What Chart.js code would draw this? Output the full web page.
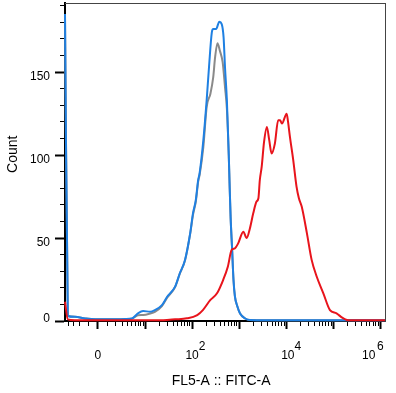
<!DOCTYPE html>
<html>
<head>
<meta charset="utf-8">
<script src="https://cdn.jsdelivr.net/npm/chart.js@4/dist/chart.umd.min.js"></script>
<style>
html,body{margin:0;padding:0;background:#fff;}
#wrap{width:396px;height:393px;position:relative;}
</style>
</head>
<body>
<div id="wrap"><canvas id="c"></canvas></div>
<script>
// x values are positions on the biexponential FITC axis, in display decades
// (0 = value 0, 2 = 10^2, 4 = 10^4, 6 = 10^6); y values are counts.
const redX  = [-0.70,-0.64,-0.49,0.00,1.00,1.39,1.64,1.89,2.11,2.23,2.39,2.53,2.66,2.76,2.84,2.91,2.98,3.09,3.16,3.23,3.30,3.37,3.41,3.44,3.48,3.53,3.59,3.64,3.69,3.76,3.83,3.87,3.91,4.01,4.04,4.08,4.15,4.22,4.27,4.33,4.44,4.54,4.65,4.79,4.93,5.07,5.19,5.29,5.36,6.10];
const redY  = [11.6,1.0,0.5,0.4,0.4,0.5,1.0,1.6,3.6,6.6,12.7,16.7,24.7,32.7,42.8,43.8,46.8,53.8,50.0,55.9,64.9,72.0,74.0,85.0,93.0,108.0,117.0,109.0,101.0,107.0,121.0,121.0,119.0,125.0,120.0,111.0,97.0,81.0,74.0,69.0,53.0,37.0,26.7,16.7,6.6,4.6,2.0,0.6,0.4,0.4];

const blueX = [-0.70,-0.64,-0.49,-0.27,-0.06,0.15,0.36,0.58,0.72,0.85,0.96,1.11,1.21,1.36,1.47,1.64,1.74,1.85,1.96,2.02,2.08,2.13,2.16,2.24,2.31,2.36,2.42,2.45,2.51,2.58,2.63,2.67,2.70,2.74,2.78,2.80,2.82,2.85,2.88,2.91,2.96,3.02,3.13,3.23,4.00,5.00,6.10];
const blueY = [185,3.0,2.5,1.5,1.0,1.0,1.0,1.2,1.5,4.6,6.0,5.6,6.6,9.6,14.6,20.7,28.8,36.8,52.9,65,73,85,89,109,133,153,174,176,176,180.4,179,171,153,133,100,80,62,44,25,15,9,4.5,1.5,0.6,0.4,0.4,0.4];

const grayX = [-0.70,-0.64,-0.49,-0.27,-0.06,0.15,0.36,0.58,0.72,0.85,0.96,1.11,1.21,1.36,1.47,1.64,1.74,1.85,1.96,2.02,2.08,2.13,2.16,2.24,2.31,2.39,2.45,2.49,2.54,2.59,2.65,2.70,2.74,2.78,2.80,2.82,2.85,2.88,2.91,2.96,3.02,3.13,3.23,4.00,5.00,6.10];
const grayY = [185,3.0,2.5,1.5,1.0,1.0,1.0,1.2,1.4,3.5,3.6,4.5,5.5,9.0,14.0,20.5,28.5,36.5,52.5,64,72,84,88,105,129,137,147,159,167.4,163,156,141,128,100,80,62,44,25,15,9,4.5,1.5,0.6,0.4,0.4,0.4];

// axis ticks
const xMajorValues = [0, 10, 100, 1000, 10000, 100000, 1000000];
const xMinorNegative = [-4, -3, -2, -1];
const xMinorMultipliers = [2, 3, 4, 5, 6, 7, 8, 9];
const xMinorDecades = [1, 10, 100, 1000, 10000, 100000];
const xLabelValues = [0, 100, 10000, 1000000];
const xLabelBase = ['0', '10', '10', '10'];
const xLabelExp  = ['', '2', '4', '6'];
// text nudges (space counts) for the exponent and base lines of each label
const xExpLead  = [0, 6, 7, 0];
const xBaseLead = [0, 0, 1, 0];
const xBaseTail = [0, 0, 0, 7];

const yMajorTicks = [0, 50, 100, 150];
const yMinorTicks = [10, 20, 30, 40, 60, 70, 80, 90, 110, 120, 130, 140, 160, 170, 180, 190];

const X_MIN = -0.7, X_MAX = 6.1, Y_MIN = 0, Y_MAX = 191.7;

// biexponential-like display transform (asinh), used for tick placement
const toT = v => Math.asinh(v / 2) / Math.LN10;
const sp = n => ' '.repeat(n);

function buildXTicks() {
  const list = [];
  xMinorNegative.forEach(v => list.push({value: toT(v), isMaj: false, lbl: ''}));
  xMinorDecades.forEach(d => xMinorMultipliers.forEach(m => {
    list.push({value: toT(m * d), isMaj: false, lbl: ''});
  }));
  xMinorNegative.length && list.push({value: toT(1), isMaj: false, lbl: ''});
  xMajorValues.forEach(v => {
    const k = xLabelValues.indexOf(v);
    const lbl = k >= 0
      ? [xLabelExp[k] ? sp(xExpLead[k]) + xLabelExp[k] : '', sp(xBaseLead[k]) + xLabelBase[k] + sp(xBaseTail[k])]
      : '';
    list.push({value: toT(v), isMaj: true, lbl});
  });
  return list.filter(t => t.value >= X_MIN && t.value <= X_MAX).sort((a, b) => a.value - b.value);
}
function buildYTicks() {
  const list = [];
  yMajorTicks.forEach(v => list.push({value: v, isMaj: true, lbl: v === 0 ? [String(v), ''] : String(v)}));
  yMinorTicks.forEach(v => list.push({value: v, isMaj: false, lbl: ''}));
  return list.sort((a, b) => a.value - b.value);
}
function noPad(s) { s.paddingLeft = 0; s.paddingRight = 0; s.paddingTop = 0; s.paddingBottom = 0; }

const pts = (xs, ys) => xs.map((x, i) => ({x, y: ys[i]}));
const FONT = "'Liberation Sans', Arial, Helvetica, sans-serif";
const isMaj = c => !!(c.tick && c.tick.isMaj);

new Chart(document.getElementById('c'), {
  type: 'line',
  data: {
    datasets: [
      {label: 'Stained', data: pts(redX, redY), borderColor: '#e8141c'},
      {label: 'Control', data: pts(blueX, blueY), borderColor: '#1f80e2'},
      {label: 'Unstained', data: pts(grayX, grayY), borderColor: '#8a8a8a'}
    ]
  },
  options: {
    responsive: true,
    maintainAspectRatio: false,
    animation: false,
    events: [],
    layout: {padding: {top: 3, right: 11, left: 0, bottom: 0}},
    datasets: {line: {clip: false}},
    elements: {
      point: {radius: 0},
      line: {borderWidth: 2, fill: false, cubicInterpolationMode: 'monotone'}
    },
    plugins: {legend: {display: false}, tooltip: {enabled: false}},
    scales: {
      x: {
        type: 'linear', position: 'bottom', min: X_MIN, max: X_MAX,
        afterBuildTicks: s => { s.ticks = buildXTicks(); },
        afterFit: s => { s.height = 72; noPad(s); },
        grid: {
          drawOnChartArea: false, drawTicks: true, tickLength: 8, tickColor: '#000',
          tickWidth: c => isMaj(c) ? 2 : 1,
          tickBorderDash: c => isMaj(c) ? [] : [4, 100]
        },
        border: {display: true, color: '#000', width: 2},
        ticks: {
          autoSkip: false, maxRotation: 0, minRotation: 0, padding: 13, color: '#000',
          font: {family: FONT, size: 12, lineHeight: 0.75},
          callback: (v, i, ticks) => ticks[i].lbl
        },
        title: {
          display: true, text: 'FL5-A :: FITC-A  ', color: '#000',
          font: {family: FONT, size: 14}, padding: {top: 0, bottom: 3}
        }
      },
      y: {
        type: 'linear', position: 'left', min: Y_MIN, max: Y_MAX,
        afterBuildTicks: s => { s.ticks = buildYTicks(); },
        afterFit: s => { s.width = 65; noPad(s); },
        grid: {
          drawOnChartArea: false, drawTicks: true, tickLength: 10, tickColor: '#000',
          tickWidth: c => isMaj(c) ? 2 : 1,
          tickBorderDash: c => isMaj(c) ? [] : [0, 5, 4, 100]
        },
        border: {display: true, color: '#000', width: 2},
        ticks: {
          autoSkip: false, padding: 5, color: '#000', labelOffset: 4.5,
          font: {family: FONT, size: 12},
          callback: (v, i, ticks) => ticks[i].lbl
        },
        title: {
          display: true, text: '    Count', color: '#000',
          font: {family: FONT, size: 14}, padding: {top: 5, bottom: 0}
        }
      },
      xTop: {
        type: 'linear', position: 'top', min: 0, max: 1,
        afterFit: s => { s.height = 0; noPad(s); },
        ticks: {display: false},
        grid: {drawOnChartArea: false, drawTicks: false},
        border: {display: true, color: '#444', width: 1}
      },
      yRight: {
        type: 'linear', position: 'right', min: 0, max: 1,
        afterFit: s => { s.width = 0; noPad(s); },
        ticks: {display: false},
        grid: {drawOnChartArea: false, drawTicks: false},
        border: {display: true, color: '#444', width: 1}
      }
    }
  }
});
</script>
</body>
</html>
